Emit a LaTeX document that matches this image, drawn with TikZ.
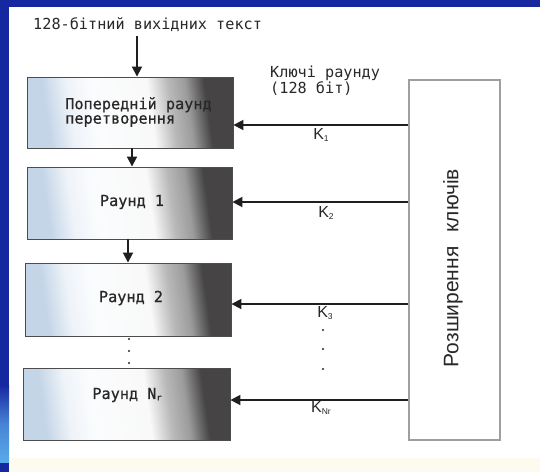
\documentclass[tikz,border=0pt]{standalone}
\usepackage{fontspec}
\setmainfont{Liberation Sans}
\newfontfamily\monof{DejaVu Sans Mono}
\newfontfamily\monomid{DejaVu Sans Mono}[FakeBold=0.7]
\usetikzlibrary{arrows.meta}

\definecolor{slideblue}{RGB}{22,40,160}
\definecolor{slidecyan}{RGB}{90,170,235}
\definecolor{inkgray}{RGB}{40,40,40}
\definecolor{paleblue}{RGB}{196,213,232}
\definecolor{darkshade}{RGB}{70,68,68}
\definecolor{cream}{RGB}{253,251,240}

% light blue on the left, white in the middle, dark grey on the right
\pgfdeclarehorizontalshading{roundshade}{100bp}{
  color(0bp)=(paleblue); color(28bp)=(paleblue);
  color(34.5bp)=(white!72!paleblue); color(41bp)=(white!93!paleblue);
  color(55.5bp)=(white!95!gray); color(61bp)=(gray!55);
  color(65.5bp)=(gray!78); color(70.5bp)=(darkshade); color(100bp)=(darkshade)}

\tikzset{
  roundbox/.style={draw=gray!60!black, line width=0.9pt, shading=roundshade,
    shading angle=8, inner sep=0pt},
  monotext/.style={font=\monof\fontsize{15.2}{12.5}\selectfont, text=inkgray,
    inner sep=0pt},
  boxtext/.style={monotext, font=\monomid\fontsize{15.2}{14.5}\selectfont, align=left},
  keylabel/.style={font=\fontsize{16}{16}\selectfont, text=inkgray, inner sep=0pt},
  keybox/.style={draw=gray!75, line width=1.1pt, fill=white, inner sep=0pt},
  feed/.style={draw=black!88, line width=1.8pt,
    -{Triangle[length=10pt,width=10pt]}},
  dotmark/.style={circle, fill=inkgray, inner sep=0pt, minimum size=2.2pt},
}
\newcommand{\subidx}[1]{\raisebox{-1.5pt}{\fontsize{8.5}{8.5}\selectfont #1}}

\begin{document}
\begin{tikzpicture}[x=1pt,y=-1pt]
  % slide background
  \useasboundingbox (0,0) rectangle (540,472);
  \fill[white] (0,0) rectangle (540,472);
  \fill[cream] (9,458) rectangle (540,472);
  \fill[slideblue] (0,0) rectangle (540,6.5);
  \fill[slideblue] (0,0) rectangle (9,472);
  \shade[top color=slideblue, bottom color=slidecyan, middle color=slidecyan!70!slideblue]
    (0,385) rectangle (9,462);

  % input text
  \node[monotext, anchor=base west] (src) at (33,29) {128-бітний вихідних текст};
  \coordinate (srcfoot) at (137,36);

  % round boxes
  \node[roundbox, minimum width=206pt, minimum height=71pt] (b0) at (130,112.5) {};
  \node[roundbox, minimum width=205pt, minimum height=72pt] (b1) at (129.5,203) {};
  \node[roundbox, minimum width=206pt, minimum height=73pt] (b2) at (128,299.5) {};
  \node[roundbox, minimum width=207pt, minimum height=72pt] (b3) at (126.5,404) {};

  \node[boxtext] (b0t) at (138.5,112) {Попередній раунд\\перетворення};
  \node[boxtext] (b1t) at (132,202) {Раунд 1};
  \node[boxtext] (b2t) at (131,298) {Раунд 2};
  \node[boxtext] (b3t) at (127,395) {Раунд N\subidx{r}};

  % flow between rounds
  \draw[feed] (srcfoot) -- (srcfoot |- b0.north);
  \draw[feed] ([xshift=2pt]b0.south) -- ([xshift=2pt]b0.south |- b1.north);
  \draw[feed] ([xshift=-1.5pt]b1.south) -- ([xshift=-1.5pt]b1.south |- b2.north);
  \node[dotmark] (vd1) at (129,339) {};
  \node[dotmark] (vd2) at (129,351) {};
  \node[dotmark] (vd3) at (129,363) {};

  % key expansion block
  \node[keybox, minimum width=91pt, minimum height=360pt] (kx) at (454.5,260) {};
  \node[rotate=90, font=\fontsize{21}{21}\selectfont, text=inkgray, inner sep=0pt]
    (kxt) at (453,268) {Розширення\hspace{8pt} ключів};
  \node[monotext, anchor=west, align=left, font=\monof\fontsize{15.2}{12}\selectfont]
    (keyhdr) at (270,81) {Ключі раунду\\(128 біт)};

  % round keys
  \coordinate (y1) at (0,125);
  \coordinate (y2) at (0,202);
  \coordinate (y3) at (0,304);
  \coordinate (y4) at (0,400);
  \draw[feed] (kx.west |- y1) -- (b0.east |- y1);
  \draw[feed] (kx.west |- y2) -- (b1.east |- y2);
  \draw[feed] (kx.west |- y3) -- (b2.east |- y3);
  \draw[feed] (kx.west |- y4) -- (b3.east |- y4);

  \node[keylabel] (k1) at (321,135) {K\subidx{1}};
  \node[keylabel] (k2) at (326,213) {K\subidx{2}};
  \node[keylabel] (k3) at (325,313) {K\subidx{3}};
  \node[dotmark] (kd1) at (323,330) {};
  \node[dotmark] (kd2) at (323,349) {};
  \node[dotmark] (kd3) at (323,369) {};
  \node[keylabel] (k4) at (321,408) {K\subidx{Nr}};
\end{tikzpicture}
\end{document}
